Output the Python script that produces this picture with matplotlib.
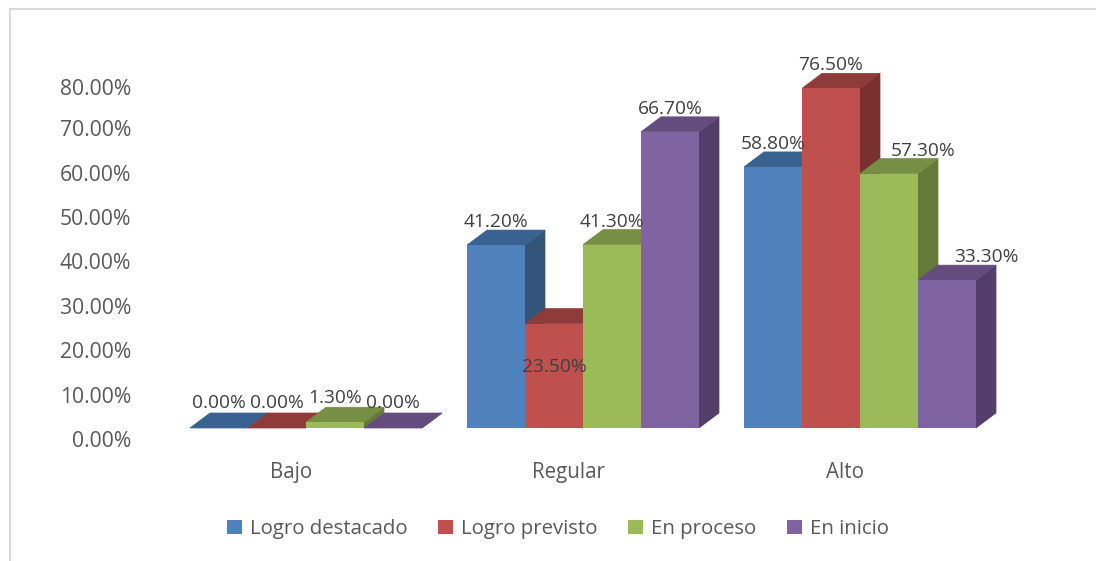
import numpy as np
import matplotlib.pyplot as plt
from matplotlib.patches import Patch, Polygon
from matplotlib.lines import Line2D
from matplotlib.transforms import ScaledTranslation

categories = ['Bajo', 'Regular', 'Alto']
series = ['Logro destacado', 'Logro previsto', 'En proceso', 'En inicio']
logro_destacado = [0.0, 41.2, 58.8]
logro_previsto = [0.0, 23.5, 76.5]
en_proceso = [1.3, 41.3, 57.3]
en_inicio = [0.0, 66.7, 33.3]
yticks = [0, 10, 20, 30, 40, 50, 60, 70, 80]

front = ['#4F81BD', '#C0504D', '#9BBB59', '#8064A2']
top = ['#3A6290', '#8F3B39', '#778F45', '#644D7E']
side = ['#315478', '#7A302E', '#637A38', '#533E6B']

plt.rcParams['font.family'] = ['Open Sans', 'DejaVu Sans']

W, H = 1096, 561
fig = plt.figure(figsize=(W / 100, H / 100), dpi=100)

# axes box in pixels: value 0 sits on y=428, 58 px per bar, 4.44 px per percent
left, right, bottom, up = 140, 1040, 428, 40
bar_px, pct_px, gap_px = 58.0, 4.44, 277.0
center0 = 306.0
ax = fig.add_axes([left / W, 1 - bottom / H, (right - left) / W, (bottom - up) / H])
ax.set_xlim((left - center0) / bar_px, (right - center0) / bar_px)
ax.set_ylim(0, (bottom - up) / pct_px)
ax.patch.set_alpha(0)
for s in ax.spines.values():
    s.set_visible(False)

gap = gap_px / bar_px
dx = 20 / bar_px
dy = 15 / pct_px
centers = np.arange(len(categories)) * gap

# label shift from the middle of the bar, in pixels (hand placed in the original)
shift = {(0, 2): (0, -1), (1, 1): (0, -66), (2, 2): (34, 0), (2, 3): (39, 0)}

values = [logro_destacado, logro_previsto, en_proceso, en_inicio]
for i, c in enumerate(centers):
    for j in range(len(series)):
        v = values[j][i]
        x0 = c + j - 2
        x1 = x0 + 1
        ax.add_patch(Polygon([(x1, 0), (x1 + dx, dy), (x1 + dx, v + dy), (x1, v)],
                             fc=side[j], ec=side[j], lw=0.5, clip_on=False))
        ax.add_patch(Polygon([(x0, v), (x0 + dx, v + dy), (x1 + dx, v + dy), (x1, v)],
                             fc=top[j], ec=top[j], lw=0.5, clip_on=False))
        ax.bar(x0 + 0.5, v, width=1, color=front[j], lw=0, clip_on=False)

for i, c in enumerate(centers):
    for j in range(len(series)):
        v = values[j][i]
        sx, sy = shift.get((i, j), (0, 0))
        ax.annotate('%.2f%%' % v, (c + j - 1.5, v), xytext=(sx, 23 + sy + (2 if i == 0 else 0)),
                    textcoords='offset pixels', ha='center', va='center',
                    fontsize=13.8, color='#404040', annotation_clip=False)

ax.set_yticks(yticks)
ax.set_yticklabels(['%.2f%%' % t for t in yticks])
ax.set_xticks(centers)
ax.set_xticklabels(categories)
ax.tick_params(axis='y', length=0, pad=6.5, labelsize=15.2, labelcolor='#595959')
ax.tick_params(axis='x', length=0, pad=24.5, labelsize=14.8, labelcolor='#595959')
# the top label sits a bit lower in the original
for lab, t in zip(ax.get_yticklabels(), yticks):
    off = 14 if t == 80 else 11
    lab.set_transform(lab.get_transform() + ScaledTranslation(0, -off / 100, fig.dpi_scale_trans))
for lab in ax.get_xticklabels():
    lab.set_transform(lab.get_transform() + ScaledTranslation(-15 / 100, 0, fig.dpi_scale_trans))

handles = [Patch(fc=front[j], ec='none', label=series[j]) for j in range(len(series))]
fig.legend(handles=handles, loc='center', bbox_to_anchor=(558 / W, 1 - 529 / H), ncol=4,
           frameon=False, fontsize=14.7, labelcolor='#595959', handlelength=0.72, handleheight=0.72,
           handletextpad=0.4, columnspacing=1.5, borderpad=0)

# chart area border, only top and left are in the crop
fig.add_artist(Line2D([10 / W, 10 / W], [0, 1 - 9 / H], color='#D9D9D9', lw=1.5))
fig.add_artist(Line2D([10 / W, 1], [1 - 9 / H, 1 - 9 / H], color='#D9D9D9', lw=1.5))

plt.savefig('out.png', dpi=100)
